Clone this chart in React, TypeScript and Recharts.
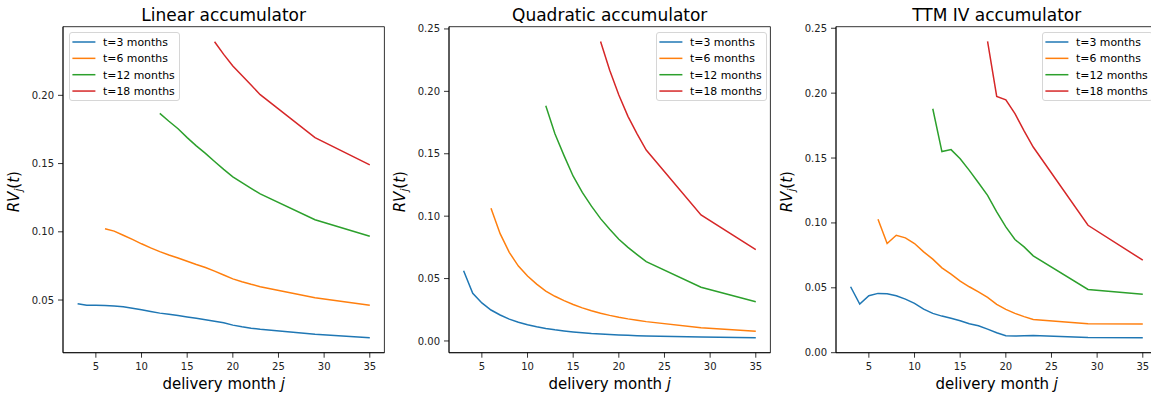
import React from 'react';
import { LineChart, Line, XAxis, YAxis, ReferenceArea, Legend } from 'recharts';

const months = [3, 4, 5, 6, 7, 8, 9, 10, 11, 12, 13, 14, 15, 16, 17, 18, 19, 20, 21, 22, 23, 29, 35];
const seriesNames = ['t=3 months', 't=6 months', 't=12 months', 't=18 months'];
const seriesColors = ['#1f77b4', '#ff7f0e', '#2ca02c', '#d62728'];
const xTicks = [5, 10, 15, 20, 25, 30, 35];
const N = null;

// Linear accumulator
const linT3 = [0.0473, 0.0461, 0.0462, 0.0459, 0.0457, 0.0450, 0.0440, 0.0428, 0.0416, 0.0404, 0.0395, 0.0386, 0.0376, 0.0366, 0.0356, 0.0345, 0.0334, 0.0316, 0.0304, 0.0294, 0.0286, 0.0249, 0.0223];
const linT6 = [N, N, N, 0.1023, 0.1005, 0.0975, 0.0944, 0.0912, 0.0882, 0.0855, 0.0830, 0.0808, 0.0784, 0.0760, 0.0738, 0.0712, 0.0683, 0.0655, 0.0634, 0.0615, 0.0598, 0.0517, 0.0462];
const linT12 = [N, N, N, N, N, N, N, N, N, 0.1868, 0.1810, 0.1755, 0.1690, 0.1630, 0.1575, 0.1515, 0.1457, 0.1403, 0.1360, 0.1318, 0.1278, 0.1088, 0.0968];
const linT18 = [N, N, N, N, N, N, N, N, N, N, N, N, N, N, N, 0.2393, 0.2300, 0.2215, 0.2145, 0.2075, 0.2005, 0.1690, 0.1490];

// Quadratic accumulator
const quadT3 = [0.0562, 0.0382, 0.0305, 0.0248, 0.0208, 0.0175, 0.0150, 0.0130, 0.0114, 0.0100, 0.0089, 0.0080, 0.0072, 0.0065, 0.0059, 0.0055, 0.0051, 0.0048, 0.0045, 0.0042, 0.0040, 0.0032, 0.0025];
const quadT6 = [N, N, N, 0.1063, 0.0860, 0.0710, 0.0600, 0.0520, 0.0455, 0.0400, 0.0358, 0.0323, 0.0292, 0.0265, 0.0242, 0.0222, 0.0205, 0.0190, 0.0177, 0.0166, 0.0155, 0.0105, 0.0078];
const quadT12 = [N, N, N, N, N, N, N, N, N, 0.1885, 0.1660, 0.1485, 0.1320, 0.1190, 0.1080, 0.0980, 0.0895, 0.0815, 0.0750, 0.0692, 0.0636, 0.0430, 0.0315];
const quadT18 = [N, N, N, N, N, N, N, N, N, N, N, N, N, N, N, 0.2400, 0.2170, 0.1970, 0.1800, 0.1660, 0.1530, 0.1010, 0.0732];

// TTM IV accumulator
const ttmT3 = [0.0508, 0.0375, 0.0439, 0.0457, 0.0455, 0.0439, 0.0413, 0.0380, 0.0336, 0.0303, 0.0282, 0.0265, 0.0246, 0.0223, 0.0208, 0.0182, 0.0154, 0.0131, 0.0128, 0.0131, 0.0133, 0.0118, 0.0115];
const ttmT6 = [N, N, N, 0.1028, 0.0841, 0.0905, 0.0885, 0.0841, 0.0777, 0.0721, 0.0654, 0.0605, 0.0551, 0.0508, 0.0469, 0.0426, 0.0372, 0.0334, 0.0303, 0.0278, 0.0256, 0.0224, 0.0221];
const ttmT12 = [N, N, N, N, N, N, N, N, N, 0.1880, 0.1550, 0.1565, 0.1495, 0.1405, 0.1310, 0.1213, 0.1085, 0.0969, 0.0872, 0.0815, 0.0746, 0.0487, 0.0451];
const ttmT18 = [N, N, N, N, N, N, N, N, N, N, N, N, N, N, N, 0.2398, 0.1975, 0.1949, 0.1842, 0.1710, 0.1585, 0.0982, 0.0713];

const FONT = '"DejaVu Sans", sans-serif';

const buildRows = (s: (number | null)[][]) =>
  months.map((j, i) => ({ j, a: s[0][i], b: s[1][i], c: s[2][i], d: s[3][i] }));

const panels = [
  {
    title: 'Linear accumulator',
    rows: buildRows([linT3, linT6, linT12, linT18]),
    yDomain: [0.0114, 0.2503],
    yTicks: [0.05, 0.1, 0.15, 0.2],
    chartLeft: 3.3,
    legendLeft: 66,
  },
  {
    title: 'Quadratic accumulator',
    rows: buildRows([quadT3, quadT6, quadT12, quadT18]),
    yDomain: [-0.0094, 0.2518],
    yTicks: [0, 0.05, 0.1, 0.15, 0.2, 0.25],
    chartLeft: 389.3,
    legendLeft: 266.4,
  },
  {
    title: 'TTM IV accumulator',
    rows: buildRows([ttmT3, ttmT6, ttmT12, ttmT18]),
    yDomain: [0, 0.2512],
    yTicks: [0, 0.05, 0.1, 0.15, 0.2, 0.25],
    chartLeft: 775.7,
    legendLeft: 266.4,
  },
];

const TitleLabel = (props: any) => {
  const vb = props.viewBox || {};
  return (
    <text x={vb.x + vb.width / 2} y={20.7} textAnchor="middle" fontFamily={FONT} fontSize={17} fill="#000">
      {props.text}
    </text>
  );
};

const XLabel = (props: any) => {
  const vb = props.viewBox || {};
  return (
    <text x={vb.x + vb.width / 2} y={389} textAnchor="middle" fontFamily={FONT} fontSize={15} fill="#000">
      delivery month <tspan fontStyle="italic">j</tspan>
    </text>
  );
};

const YLabel = () => {
  const cx = 16;
  const cy = 191.7;
  return (
    <text
      x={cx}
      y={cy}
      transform={`rotate(-90 ${cx} ${cy})`}
      textAnchor="middle"
      fontFamily={FONT}
      fontSize={15}
      fill="#000"
    >
      <tspan fontStyle="italic">RV</tspan>
      <tspan fontStyle="italic" fontSize={10.5} dy={3}>j</tspan>
      <tspan dy={-3}>(</tspan>
      <tspan fontStyle="italic">t</tspan>
      <tspan>)</tspan>
    </text>
  );
};

const LegendBox = () => (
  <div
    style={{
      position: 'relative',
      boxSizing: 'border-box',
      width: 111,
      height: 69,
      border: '1px solid #d6d6d6',
      borderRadius: 3,
      background: 'rgba(255,255,255,0.8)',
      fontFamily: FONT,
      fontSize: 10.9,
      color: '#000',
    }}
  >
    <svg width={109} height={67} style={{ position: 'absolute', left: 0, top: 0 }}>
      {seriesNames.map((name, i) => {
        const y = 9 + i * 16.35;
        return (
          <g key={name}>
            <line x1={2.4} x2={25.4} y1={y} y2={y} stroke={seriesColors[i]} strokeWidth={1.5} />
            <text x={33} y={y + 4} fontFamily={FONT} fontSize={10.9} fill="#000">
              {name}
            </text>
          </g>
        );
      })}
    </svg>
  </div>
);

const Panel = ({ p }: { p: (typeof panels)[number] }) => (
  <div style={{ position: 'absolute', left: p.chartLeft, top: 0 }}>
    <LineChart width={382} height={394} data={p.rows} margin={{ top: 26.7, right: 0.6, bottom: 0, left: 0 }}>
      <XAxis
        type="number"
        dataKey="j"
        domain={[1.4, 36.6]}
        ticks={xTicks}
        allowDataOverflow
        height={41.3}
        tickSize={5}
        tickMargin={5}
        tick={{ fontSize: 10, fill: '#222', fontFamily: FONT }}
        stroke="#000"
        axisLine={{ stroke: '#000', strokeWidth: 0.8 }}
        tickLine={{ stroke: '#000', strokeWidth: 0.8 }}
        label={<XLabel />}
      />
      <YAxis
        type="number"
        domain={p.yDomain}
        ticks={p.yTicks}
        allowDataOverflow
        width={60}
        tickSize={5}
        tickMargin={4}
        tickFormatter={(v: number) => v.toFixed(2)}
        tick={{ fontSize: 10, fill: '#222', fontFamily: FONT }}
        axisLine={{ stroke: '#000', strokeWidth: 0.8 }}
        tickLine={{ stroke: '#000', strokeWidth: 0.8 }}
        label={<YLabel />}
      />
      <ReferenceArea
        x1={1.4}
        x2={36.6}
        y1={p.yDomain[0]}
        y2={p.yDomain[1]}
        fill="none"
        fillOpacity={0}
        stroke="#000"
        strokeWidth={0.8}
        ifOverflow="visible"
        label={<TitleLabel text={p.title} />}
      />
      {['a', 'b', 'c', 'd'].map((k, i) => (
        <Line
          key={k}
          type="linear"
          dataKey={k}
          name={seriesNames[i]}
          stroke={seriesColors[i]}
          strokeWidth={1.5}
          dot={false}
          activeDot={false}
          isAnimationActive={false}
        />
      ))}
      <Legend
        layout="vertical"
        align="center"
        verticalAlign="middle"
        content={<LegendBox />}
        wrapperStyle={{ top: 32.3, left: p.legendLeft, width: 111, height: 69, margin: 0, padding: 0 }}
      />
    </LineChart>
  </div>
);

export default function App() {
  return (
    <div
      style={{
        position: 'absolute',
        left: 0,
        top: 0,
        width: 1151,
        height: 394,
        overflow: 'hidden',
        background: '#fff',
      }}
    >
      {panels.map((p) => (
        <Panel key={p.title} p={p} />
      ))}
    </div>
  );
}
